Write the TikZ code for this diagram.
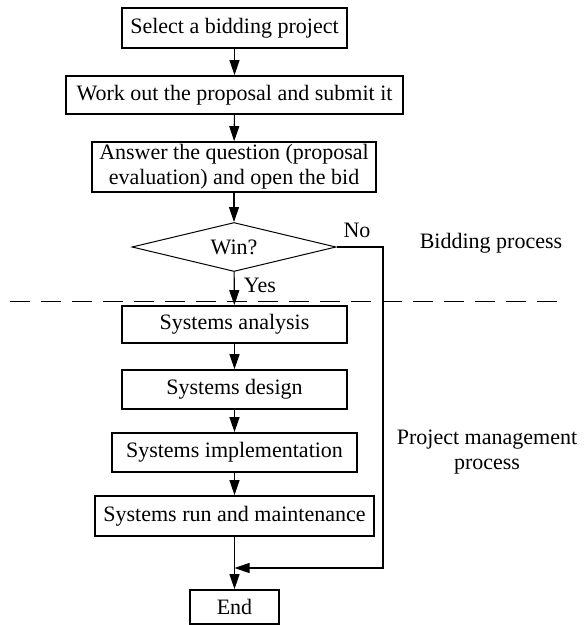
\documentclass[tikz,border=0pt]{standalone}
\usepackage{fontspec}
\setmainfont{Liberation Serif}
\usetikzlibrary{arrows.meta,shapes.geometric}
\begin{document}
\begin{tikzpicture}[x=1pt,y=-1pt,
  font=\fontsize{22}{25}\selectfont,
  stepbox/.style={draw,line width=1.8pt,rectangle,inner sep=0pt,align=center},
  decision/.style={draw,line width=1pt,diamond,inner sep=0pt,aspect=4},
  conn/.style={line width=1.1pt,-{Triangle[length=15pt,width=10pt]}},
  plain/.style={line width=1pt},
  lbl/.style={inner sep=0pt}]
\useasboundingbox (0,0) rectangle (586,625);
\node[stepbox,minimum width=225pt,minimum height=40pt] (s1) at (234.5,28) {Select a bidding project};
\node[stepbox,minimum width=337pt,minimum height=38pt] (s2) at (234.5,95) {Work out the proposal and submit it};
\node[stepbox,minimum width=284pt,minimum height=50pt] (s3) at (234,167) {Answer the question (proposal\\evaluation) and open the bid};
\node[decision,minimum width=204pt,minimum height=49pt] (d) at (234,247) {Win?};
\node[stepbox,minimum width=225pt,minimum height=37pt] (s5) at (234.5,324.5) {Systems analysis};
\node[stepbox,minimum width=225pt,minimum height=39pt] (s6) at (234.5,389.5) {Systems design};
\node[stepbox,minimum width=245pt,minimum height=39pt] (s7) at (234.5,452.5) {Systems implementation};
\node[stepbox,minimum width=279pt,minimum height=40pt] (s8) at (234.5,516) {Systems run and maintenance};
\node[stepbox,minimum width=89pt,minimum height=34pt] (s9) at (234.5,607) {End};
\node[lbl] (no) at (357,230) {No};
\node[lbl] (yes) at (260,285) {Yes};
\node[lbl] (bp) at (491,243) {Bidding process};
\node[lbl,align=center] (pm) at (487,452) {Project management\\process};
\coordinate (c1) at (383,247);
\coordinate (c2) at (383,568);
\coordinate (c3) at (234.5,568);
\coordinate (dl) at (10,301);
\coordinate (dr) at (568,301);
\draw[conn] (s1) -- (s2);
\draw[conn] (s2) -- (s3);
\draw[conn] (s3) -- (d);
\draw[conn] (d) -- (s5);
\draw[conn] (s5) -- (s6);
\draw[conn] (s6) -- (s7);
\draw[conn] (s7) -- (s8);
\draw[conn] (s8) -- (s9);
\draw[conn] (d.east) -- (c1) -- (c2) -- (c3);
\draw[plain,dash pattern=on 20pt off 11pt] (dl) -- (dr);
\end{tikzpicture}
\end{document}
